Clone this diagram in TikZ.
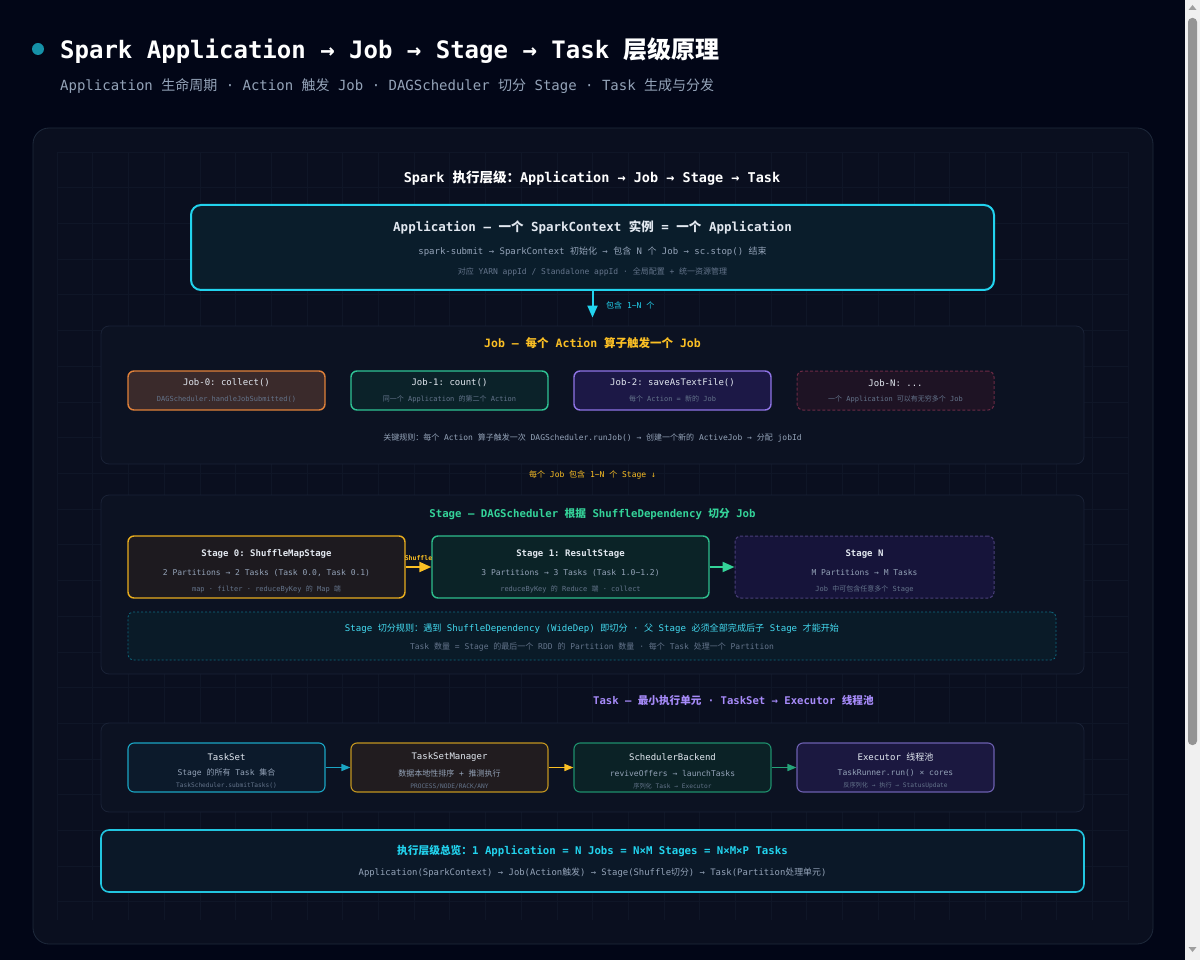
\documentclass[tikz,border=0pt]{standalone}
\usepackage{fontspec}
\setmonofont{DejaVu Sans Mono}
\newfontfamily\cjk{Noto Sans CJK SC}
\usetikzlibrary{arrows.meta}
% switch to the CJK font for Chinese characters
\XeTeXinterchartokenstate=1
\newXeTeXintercharclass\CJKcls
\newcount\cjkc
\cjkc="3000 \loop\XeTeXcharclass\cjkc=\CJKcls\advance\cjkc 1 \ifnum\cjkc<"3040 \repeat
\cjkc="4E00 \loop\XeTeXcharclass\cjkc=\CJKcls\advance\cjkc 1 \ifnum\cjkc<"A000 \repeat
\cjkc="FF00 \loop\XeTeXcharclass\cjkc=\CJKcls\advance\cjkc 1 \ifnum\cjkc<"FFF0 \repeat
\XeTeXinterchartoks 0 \CJKcls={\cjk}
\XeTeXinterchartoks 4095 \CJKcls={\cjk}
\XeTeXinterchartoks \CJKcls 0={\ttfamily}
\XeTeXinterchartoks \CJKcls 4095={\ttfamily}
\definecolor{bg}{HTML}{020617}
\definecolor{panel}{HTML}{0A0F1F}
\definecolor{panelline}{HTML}{1E293B}
\definecolor{gridc}{HTML}{0F1627}
\definecolor{secfill}{HTML}{0C1222}
\definecolor{secline}{HTML}{1A2236}
\definecolor{cyanc}{HTML}{22D3EE}
\definecolor{amber}{HTML}{FBBF24}
\definecolor{greenc}{HTML}{34D399}
\definecolor{purplec}{HTML}{A78BFA}
\definecolor{txt}{HTML}{E2E8F0}
\definecolor{graytxt}{HTML}{94A3B8}
\definecolor{dimtxt}{HTML}{64748B}
\definecolor{dotc}{HTML}{1591A8}
\definecolor{appfill}{HTML}{0A1D2B}
\definecolor{jzfill}{HTML}{3A2A2B}\definecolor{jzline}{HTML}{E0813A}
\definecolor{jafill}{HTML}{0B2229}\definecolor{jaline}{HTML}{2FC495}
\definecolor{jbfill}{HTML}{1C1846}\definecolor{jbline}{HTML}{8F74E6}
\definecolor{jnfill}{HTML}{1E1324}\definecolor{jnline}{HTML}{6B2A45}
\definecolor{szfill}{HTML}{1D1A1F}\definecolor{szline}{HTML}{E8AD1E}
\definecolor{safill}{HTML}{0B2327}\definecolor{saline}{HTML}{2EBD8C}
\definecolor{snfill}{HTML}{16143A}\definecolor{snline}{HTML}{4A3F7A}
\definecolor{rulefill}{HTML}{0A1B28}\definecolor{ruleline}{HTML}{0E6A80}
\definecolor{tsfill}{HTML}{0C1A2B}\definecolor{tsline}{HTML}{1AA5C4}
\definecolor{tmfill}{HTML}{211C1F}\definecolor{tmline}{HTML}{C2951F}
\definecolor{sbfill}{HTML}{0B2226}\definecolor{sbline}{HTML}{1E8F6C}
\definecolor{exfill}{HTML}{1B1840}\definecolor{exline}{HTML}{6C5FB0}
\definecolor{sumfill}{HTML}{0B1828}\definecolor{sumline}{HTML}{22C5E0}
\newcommand{\fs}[1]{\fontsize{#1}{#1}\selectfont}
\begin{document}
\begin{tikzpicture}[x=1pt, y=-1pt,
  every node/.style={font=\ttfamily, inner sep=0pt},
  sect/.style={draw=secline, fill=secfill, rounded corners=8pt, line width=0.8pt,
    minimum width=983pt},
  card/.style={rounded corners=6pt, line width=1.4pt},
  jobcard/.style={card, minimum width=197pt, minimum height=39pt},
  stcard/.style={card, minimum width=277pt, minimum height=62pt},
  tkcard/.style={card, line width=1.1pt, minimum width=197pt, minimum height=49pt},
  head/.style={font=\ttfamily\bfseries\fs{11}},
  ttl/.style={text=txt, font=\ttfamily\fs{9}},
  sub/.style={text=graytxt, font=\ttfamily\fs{8}},
  tiny/.style={text=dimtxt, font=\ttfamily\fs{7}},
  arr/.style={line width=2pt, -{Triangle[length=12pt, width=10pt]}},
  tarr/.style={line width=1.4pt, -{Triangle[length=9pt, width=7pt]}}]
\useasboundingbox (0,0) rectangle (1200,960);
\fill[bg] (0,0) rectangle (1200,960);
% title
\fill[dotc] (38,49) circle (6);
\node[anchor=west, text=white, font=\ttfamily\bfseries\fs{24}] (title) at (60,51)
  {Spark Application → Job → Stage → Task 层级原理};
\node[anchor=west, text=graytxt, font=\ttfamily\fs{14}] (subtitle) at (60,86)
  {Application 生命周期 · Action 触发 Job · DAGScheduler 切分 Stage · Task 生成与分发};
% panel and grid
\draw[panelline, fill=panel, rounded corners=16pt, line width=0.8pt] (33,128) rectangle (1153,944);
\foreach \i in {0,...,30} \draw[gridc, line width=0.6pt] (57+35.7*\i,152) -- (57+35.7*\i,920);
\foreach \j in {0,...,21} \draw[gridc, line width=0.6pt] (57,152+35.7*\j) -- (1128,152+35.7*\j);
\node[text=white, font=\ttfamily\bfseries\fs{13.5}] (head) at (592,178)
  {Spark 执行层级：Application → Job → Stage → Task};
% application
\node[draw=cyanc, fill=appfill, rounded corners=10pt, line width=2pt,
  minimum width=803pt, minimum height=85pt] (app) at (592.5,247.5) {};
\node[text=txt, font=\ttfamily\bfseries\fs{12.5}] at (592.5,227)
  {Application — 一个 SparkContext 实例 = 一个 Application};
\node[sub, font=\ttfamily\fs{9}] at (592.5,252)
  {spark-submit → SparkContext 初始化 → 包含 N 个 Job → sc.stop() 结束};
\node[sub, text=dimtxt] at (592.5,272)
  {对应 YARN appId / Standalone appId · 全局配置 + 统一资源管理};
% jobs
\node[sect, minimum height=138pt] (jobs) at (592.5,395) {};
\draw[arr, cyanc] (app.south) -- ([yshift=8pt]jobs.north);
\node[anchor=west, text=cyanc, font=\ttfamily\fs{8}] at (606,305) {包含 1\textasciitilde N 个};
\node[head, text=amber, font=\ttfamily\bfseries\fs{11.5}] at (592.5,343) {Job — 每个 Action 算子触发一个 Job};
\node[jobcard, draw=jzline, fill=jzfill] (job0) at (226.5,390.5) {};
\node[jobcard, draw=jaline, fill=jafill] (job1) at (449.5,390.5) {};
\node[jobcard, draw=jbline, fill=jbfill] (job2) at (672.5,390.5) {};
\node[jobcard, draw=jnline, line width=1pt, dash pattern=on 3pt off 2pt, fill=jnfill] (jobn) at (895.5,390.5) {};
\node[ttl] at (226.5,383) {Job-0: collect()};
\node[tiny] at (226.5,399) {DAGScheduler.handleJobSubmitted()};
\node[ttl] at (449.5,383) {Job-1: count()};
\node[tiny] at (449.5,399) {同一个 Application 的第二个 Action};
\node[ttl] at (672.5,383) {Job-2: saveAsTextFile()};
\node[tiny] at (672.5,399) {每个 Action = 新的 Job};
\node[ttl] at (895.5,383) {Job-N: ...};
\node[tiny] at (895.5,399) {一个 Application 可以有无穷多个 Job};
\node[sub] at (592.5,438)
  {关键规则：每个 Action 算子触发一次 DAGScheduler.runJob() → 创建一个新的 ActiveJob → 分配 jobId};
\node[text=amber, font=\ttfamily\fs{8}] at (592.5,475) {每个 Job 包含 1\textasciitilde N 个 Stage ↓};
% stages
\node[sect, minimum height=179pt] (stages) at (592.5,584.5) {};
\node[head, text=greenc, font=\ttfamily\bfseries\fs{10.7}] at (592.5,514)
  {Stage — DAGScheduler 根据 ShuffleDependency 切分 Job};
\node[stcard, draw=szline, fill=szfill] (st0) at (266.5,567) {};
\node[stcard, draw=saline, fill=safill] (st1) at (570.5,567) {};
\node[stcard, minimum width=259pt, draw=snline, line width=1pt,
  dash pattern=on 3pt off 2pt, fill=snfill] (stn) at (864.5,567) {};
\draw[arr, amber] (st0) -- node[above=5pt, text=amber, font=\ttfamily\bfseries\fs{6.5}] {Shuffle} (st1);
\draw[arr, greenc] (st1) -- (stn);
\node[ttl, font=\ttfamily\bfseries\fs{9}] at (266.5,554) {Stage 0: ShuffleMapStage};
\node[sub] at (266.5,573) {2 Partitions → 2 Tasks (Task 0.0, Task 0.1)};
\node[tiny] at (266.5,589) {map · filter · reduceByKey 的 Map 端};
\node[ttl, font=\ttfamily\bfseries\fs{9}] at (570.5,554) {Stage 1: ResultStage};
\node[sub] at (570.5,573) {3 Partitions → 3 Tasks (Task 1.0\textasciitilde 1.2)};
\node[tiny] at (570.5,589) {reduceByKey 的 Reduce 端 · collect};
\node[ttl, font=\ttfamily\bfseries\fs{9}] at (864.5,554) {Stage N};
\node[sub] at (864.5,573) {M Partitions → M Tasks};
\node[tiny] at (864.5,589) {Job 中可包含任意多个 Stage};
\node[draw=ruleline, fill=rulefill, rounded corners=5pt, line width=0.8pt,
  dash pattern=on 2pt off 2pt, minimum width=928pt, minimum height=48pt] (rule) at (592,636) {};
\node[text=cyanc!85!white, font=\ttfamily\fs{9.1}] at (592,629)
  {Stage 切分规则：遇到 ShuffleDependency (WideDep) 即切分 · 父 Stage 必须全部完成后子 Stage 才能开始};
\node[sub, text=dimtxt] at (592,647)
  {Task 数量 = Stage 的最后一个 RDD 的 Partition 数量 · 每个 Task 处理一个 Partition};
% tasks
\node[anchor=west, head, text=purplec, font=\ttfamily\bfseries\fs{10.6}] at (593,700)
  {Task — 最小执行单元 · TaskSet → Executor 线程池};
\node[sect, minimum height=89pt] (tasks) at (592.5,767.5) {};
\node[tkcard, draw=tsline, fill=tsfill] (tset) at (226.5,767.5) {};
\node[tkcard, draw=tmline, fill=tmfill] (tsm) at (449.5,767.5) {};
\node[tkcard, draw=sbline, fill=sbfill] (sb) at (672.5,767.5) {};
\node[tkcard, draw=exline, fill=exfill] (exec) at (895.5,767.5) {};
\draw[tarr, tsline] (tset) -- (tsm);
\draw[tarr, amber] (tsm) -- (sb);
\draw[tarr, sbline!70!greenc] (sb) -- (exec);
\node[ttl] at (226.5,757) {TaskSet};
\node[sub] at (226.5,773) {Stage 的所有 Task 集合};
\node[tiny, font=\ttfamily\fs{6.2}] at (226.5,786) {TaskScheduler.submitTasks()};
\node[ttl] at (449.5,757) {TaskSetManager};
\node[sub] at (449.5,773) {数据本地性排序 + 推测执行};
\node[tiny, font=\ttfamily\fs{6.2}] at (449.5,786) {PROCESS/NODE/RACK/ANY};
\node[ttl] at (672.5,757) {SchedulerBackend};
\node[sub] at (672.5,773) {reviveOffers → launchTasks};
\node[tiny, font=\ttfamily\fs{6.2}] at (672.5,786) {序列化 Task → Executor};
\node[ttl] at (895.5,757) {Executor 线程池};
\node[sub] at (895.5,773) {TaskRunner.run() × cores};
\node[tiny, font=\ttfamily\fs{6.2}] at (895.5,786) {反序列化 → 执行 → StatusUpdate};
% summary
\node[sect, draw=sumline, line width=1.6pt, fill=sumfill, minimum height=62pt] (sum) at (592.5,861) {};
\node[text=cyanc, font=\ttfamily\bfseries\fs{10.7}] at (592.5,851)
  {执行层级总览：1 Application = N Jobs = N×M Stages = N×M×P Tasks};
\node[sub, font=\ttfamily\fs{8.9}] at (592.5,873)
  {Application(SparkContext) → Job(Action触发) → Stage(Shuffle切分) → Task(Partition处理单元)};
% scrollbar
\fill[white!94!black] (1185,0) rectangle (1200,960);
\fill[black!42, rounded corners=4pt] (1188,18) rectangle (1197,745);
\fill[black!38] (1188.5,10) -- (1196.5,10) -- (1192.5,5) -- cycle;
\fill[black!38] (1188.5,947) -- (1196.5,947) -- (1192.5,952) -- cycle;
\end{tikzpicture}
\end{document}
